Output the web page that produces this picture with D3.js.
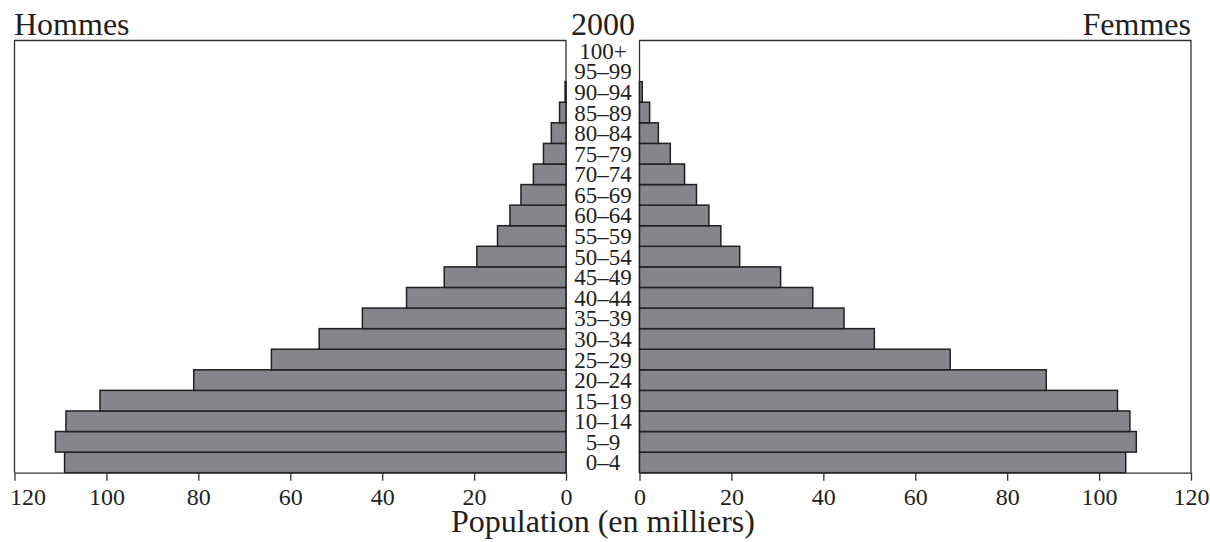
<!DOCTYPE html>
<html>
<head>
<meta charset="utf-8">
<script src="https://cdn.jsdelivr.net/npm/d3@7/dist/d3.min.js"></script>
<style>
  html, body { margin: 0; padding: 0; background: #fff; }
  svg { display: block; }
  text { font-family: "Liberation Serif", "Times New Roman", serif; fill: #231f20; }
</style>
</head>
<body>
<svg id="chart" width="1210" height="542"></svg>
<script>
// ---- Data ----
const categories = ["0–4","5–9","10–14","15–19","20–24","25–29","30–34","35–39","40–44","45–49",
                    "50–54","55–59","60–64","65–69","70–74","75–79","80–84","85–89","90–94","95–99","100+"];
const hommes = [109.1, 111.1, 108.8, 101.4, 81.0, 64.1, 53.7, 44.3, 34.7, 26.5,
                19.4, 14.9, 12.2, 9.8, 7.1, 4.9, 3.2, 1.4, 0.2, 0, 0];
const femmes = [105.8, 108.1, 106.7, 104.0, 88.5, 67.6, 51.1, 44.5, 37.7, 30.7,
                21.8, 17.7, 15.1, 12.4, 9.8, 6.7, 4.1, 2.2, 0.6, 0, 0];
const tickValues = [0, 20, 40, 60, 80, 100, 120];
const title = "2000";
const leftLabel = "Hommes";
const rightLabel = "Femmes";
const xTitle = "Population (en milliers)";

// ---- Layout ----
const svg = d3.select("#chart");
const plotTop = 40.5, plotBottom = 472.7;
const xL = d3.scaleLinear().domain([0, 120]).range([566, 14.5]);
const xR = d3.scaleLinear().domain([0, 120]).range([639.5, 1191]);
const y = d3.scaleBand().domain(categories.slice().reverse()).range([plotTop, plotBottom]).padding(0);

const barFill = "#85868b", barStroke = "#231f20", lineColor = "#333";

// Frames
svg.append("path")
  .attr("d", `M${xL(120)},${plotBottom} V${plotTop} H${xL(0)} V${plotBottom}`)
  .attr("fill", "none").attr("stroke", lineColor).attr("stroke-width", 1.3);
svg.append("path")
  .attr("d", `M${xR(0)},${plotBottom} V${plotTop} H${xR(120)} V${plotBottom}`)
  .attr("fill", "none").attr("stroke", lineColor).attr("stroke-width", 1.3);

// Bars
svg.append("g").selectAll("rect").data(categories).join("rect")
  .attr("x", (d, i) => xL(hommes[i]))
  .attr("y", d => y(d))
  .attr("width", (d, i) => xL(0) - xL(hommes[i]))
  .attr("height", y.bandwidth())
  .attr("fill", barFill).attr("stroke", barStroke).attr("stroke-width", 1.5)
  .style("display", (d, i) => hommes[i] > 0 ? null : "none");

svg.append("g").selectAll("rect").data(categories).join("rect")
  .attr("x", xR(0))
  .attr("y", d => y(d))
  .attr("width", (d, i) => xR(femmes[i]) - xR(0))
  .attr("height", y.bandwidth())
  .attr("fill", barFill).attr("stroke", barStroke).attr("stroke-width", 1.5)
  .style("display", (d, i) => femmes[i] > 0 ? null : "none");

// Category labels
svg.append("g").selectAll("text").data(categories).join("text")
  .attr("x", 603)
  .attr("y", d => y(d) + y.bandwidth() / 2)
  .attr("dy", "0.35em")
  .attr("text-anchor", "middle")
  .style("font-size", "23px")
  .text(d => d);

// Axes
function styleAxis(g) {
  g.attr("font-family", null).attr("font-size", null);
  g.select(".domain").attr("stroke", lineColor).attr("stroke-width", 1.3);
  g.selectAll(".tick line").attr("stroke", lineColor).attr("stroke-width", 1.3);
  g.selectAll(".tick text")
    .style("font-size", "24px").attr("fill", "#231f20").attr("dy", "0.71em").attr("y", 15);
}
const gL = svg.append("g").attr("transform", `translate(0,${plotBottom})`)
  .call(d3.axisBottom(xL).tickValues(tickValues).tickSize(8).tickSizeOuter(0).tickFormat(d3.format("d")))
  .call(styleAxis);
// keep the outermost left label inside the picture, as in the reference
gL.selectAll(".tick text").filter(d => d === 120)
  .attr("text-anchor", "start").attr("x", -5);
svg.append("g").attr("transform", `translate(0,${plotBottom})`)
  .call(d3.axisBottom(xR).tickValues(tickValues).tickSize(8).tickSizeOuter(0).tickFormat(d3.format("d")))
  .call(styleAxis);

// Titles
svg.append("text").attr("x", 14).attr("y", 34.5).style("font-size", "32px").text(leftLabel);
svg.append("text").attr("x", 1191).attr("y", 34.5).attr("text-anchor", "end").style("font-size", "32px").text(rightLabel);
svg.append("text").attr("x", 603).attr("y", 34.5).attr("text-anchor", "middle").style("font-size", "32px").text(title);
svg.append("text").attr("x", 603).attr("y", 532).attr("text-anchor", "middle").style("font-size", "32px").text(xTitle);
</script>
</body>
</html>
